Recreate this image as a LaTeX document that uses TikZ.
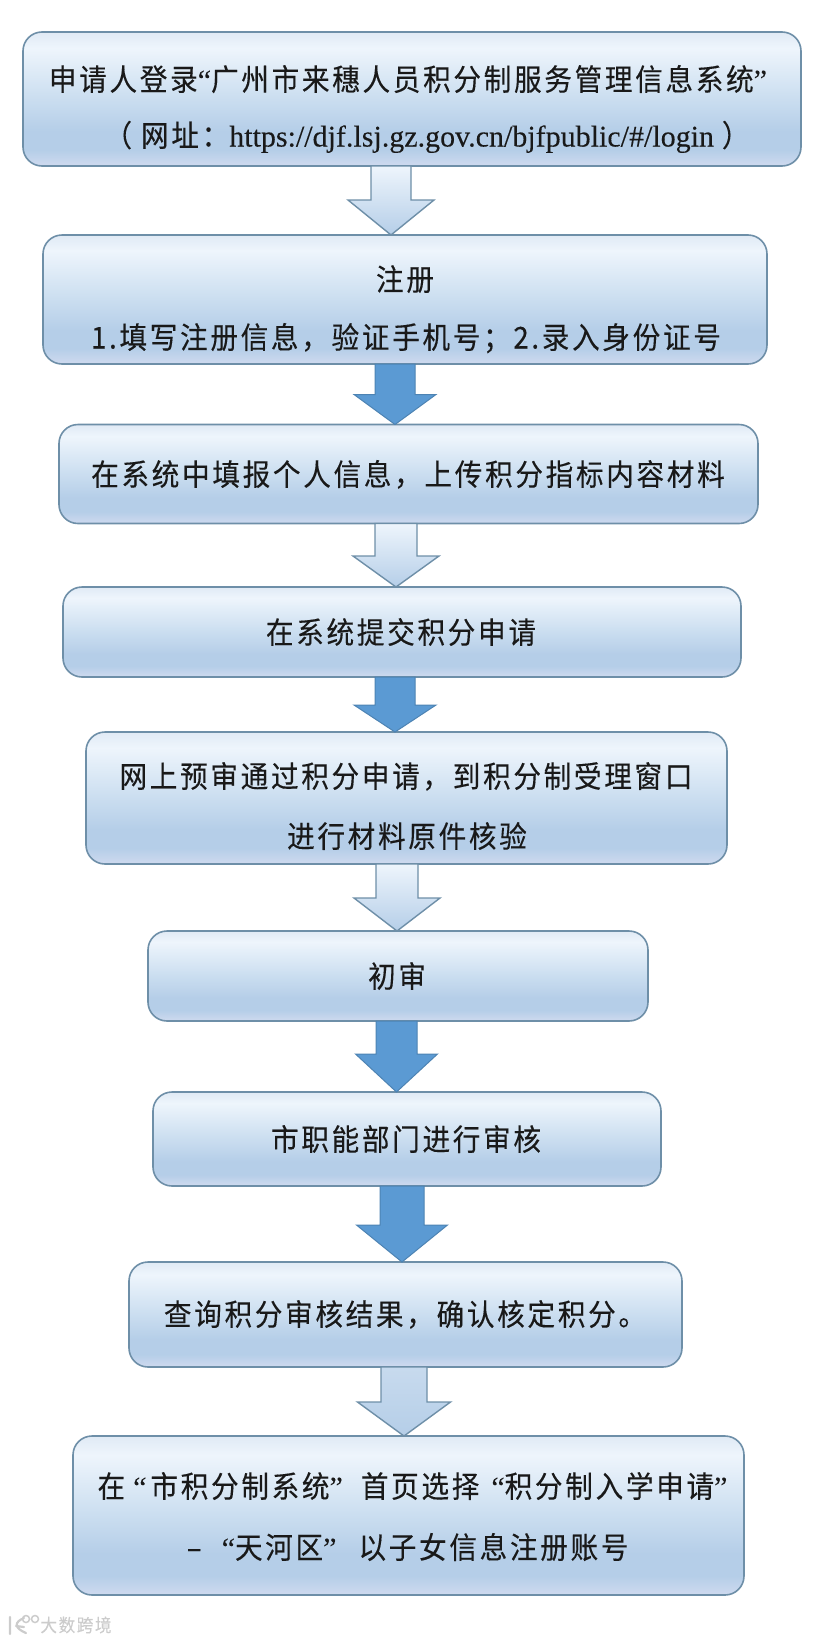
\documentclass[tikz,border=0pt]{standalone}
\usepackage{fontspec}
\usetikzlibrary{calc}
\setmainfont{Liberation Serif}
\newfontfamily\cjk[LetterSpace=9,FakeStretch=0.92,FakeBold=0.25]{Noto Sans CJK SC}
\newfontfamily\urlfont[FakeBold=0.15]{Liberation Serif}
\newcommand{\oq}{{\urlfont\char"201C}}
\newcommand{\cq}{{\urlfont\char"201D}}
\definecolor{edgeblue}{HTML}{6E8FA8}
\definecolor{darkblue}{HTML}{5B9AD3}
\definecolor{boxa}{HTML}{CFDAEF}
\definecolor{boxb}{HTML}{B5CEE8}
\definecolor{boxc}{HTML}{CEE0F1}
\definecolor{boxd}{HTML}{EEF5FC}
\definecolor{boxe}{HTML}{E0EAF5}
\pgfdeclareverticalshading{boxfade}{100bp}{
  color(0bp)=(boxa); color(25bp)=(boxa); color(31bp)=(boxb); color(38bp)=(boxb);
  color(52bp)=(boxc); color(69bp)=(boxd); color(75bp)=(boxe); color(100bp)=(boxe)}
\tikzset{
  stepbox/.style={draw=edgeblue, line width=1.6pt, rounded corners=19pt, shading=boxfade,
    inner sep=0pt, outer sep=0pt},
  steptext/.style={inner sep=0pt, text=black!90, text height=25pt, text depth=4pt,
    font=\cjk\fontsize{30}{32}\selectfont},
  paleflow/.style={draw=edgeblue, line width=1.4pt, top color=boxd, bottom color=boxb},
  softflow/.style={draw=edgeblue, line width=1.4pt, top color=boxb!75!white, bottom color=boxb},
  darkflow/.style={draw=darkblue!85!black, line width=1pt, fill=darkblue},
  markfont/.style={inner sep=0pt, text=black!20, font=\cjk\fontsize{18}{20}\selectfont}
}
% style, from, to, centre x, half shaft, half head, head length
\newcommand{\flowarrow}[7]{
  \draw[#1] let \p1=(#2.south), \p2=(#3.north) in
    ({#4-#5},\y1) -- ({#4+#5},\y1) -- ({#4+#5},{\y2+#7pt}) -- ({#4+#6},{\y2+#7pt})
    -- (#4,\y2) -- ({#4-#6},{\y2+#7pt}) -- ({#4-#5},{\y2+#7pt}) -- cycle;
}
\begin{document}
\begin{tikzpicture}[x=1pt,y=-1pt]
    \useasboundingbox (0,0) rectangle (828,1641);
    % First, locate each of the boxes and name them
    \node[stepbox, minimum width=778pt, minimum height=134pt] (login) at (412,99) {};
    \node[stepbox, minimum width=724pt, minimum height=129pt] (register) at (405,299.5) {};
    \node[stepbox, minimum width=699pt, minimum height=99pt] (fillin) at (408.5,474) {};
    \node[stepbox, minimum width=678pt, minimum height=90pt] (submit) at (402,632) {};
    \node[stepbox, minimum width=641pt, minimum height=132pt] (precheck) at (406.5,798) {};
    \node[stepbox, minimum width=500pt, minimum height=90pt] (firstcheck) at (398,976) {};
    \node[stepbox, minimum width=508pt, minimum height=94pt] (deptcheck) at (407,1139) {};
    \node[stepbox, minimum width=553pt, minimum height=105pt] (result) at (405.5,1314.5) {};
    \node[stepbox, minimum width=671pt, minimum height=159pt] (school) at (408.5,1515.5) {};
    % Now the texts, line by line
    \node[steptext] (login1) at (408,80) {申请人登录\oq 广州市来穗人员积分制服务管理信息系统\cq};
    \node[steptext] (login2) at (427,136) {（\hspace{9pt}网址：{\urlfont\fontsize{30}{32}\selectfont https://djf.lsj.gz.gov.cn/bjfpublic/\#/login}\hspace{8pt}）};
    \node[steptext] (register1) at (405,280) {注册};
    \node[steptext] (register2) at (406,338) {1.填写注册信息，验证手机号；2.录入身份证号};
    \node[steptext] (fillin1) at (408,475) {在系统中填报个人信息，上传积分指标内容材料};
    \node[steptext] (submit1) at (401,633) {在系统提交积分申请};
    \node[steptext] (precheck1) at (406,777) {网上预审通过积分申请，到积分制受理窗口};
    \node[steptext] (precheck2) at (407,837) {进行材料原件核验};
    \node[steptext] (firstcheck1) at (397,977) {初审};
    \node[steptext] (deptcheck1) at (406,1140) {市职能部门进行审核};
    \node[steptext] (result1) at (405,1315) {查询积分审核结果，确认核定积分。};
    \node[steptext] (school1) at (412.5,1487) {在\hspace{8pt}\oq\hspace{4pt}市积分制系统\cq\hspace{18pt}首页选择\hspace{12pt}\oq 积分制入学申请\cq};
    \node[steptext] (school2) at (407.7,1548) {–\hspace{20pt}\oq 天河区\cq\hspace{22pt}以子女信息注册账号};
    % Now draw the arrows
    \flowarrow{paleflow}{login}{register}{391}{20}{43}{35}
    \flowarrow{darkflow}{register}{fillin}{395}{20}{41}{30}
    \flowarrow{paleflow}{fillin}{submit}{396}{21}{43}{31}
    \flowarrow{darkflow}{submit}{precheck}{395}{20}{41}{27}
    \flowarrow{paleflow}{precheck}{firstcheck}{397}{21}{43}{33}
    \flowarrow{darkflow}{firstcheck}{deptcheck}{396.5}{20.5}{41}{38}
    \flowarrow{darkflow}{deptcheck}{result}{402}{22}{45.5}{37}
    \flowarrow{softflow}{result}{school}{404}{23}{46.5}{34}
    % Watermark in the corner
    \node[markfont] (mark) at (76,1625) {大数跨境};
    \draw[black!20, line width=2.2pt, line cap=round] (10,1617) -- (10,1634)
      (24,1618) .. controls (14,1622) and (14,1628) .. (26,1633) (24,1627) -- (16,1626);
    \draw[black!20, line width=1.5pt] (26,1619) circle (3.5pt) (35,1619) circle (3.5pt);
\end{tikzpicture}
\end{document}
